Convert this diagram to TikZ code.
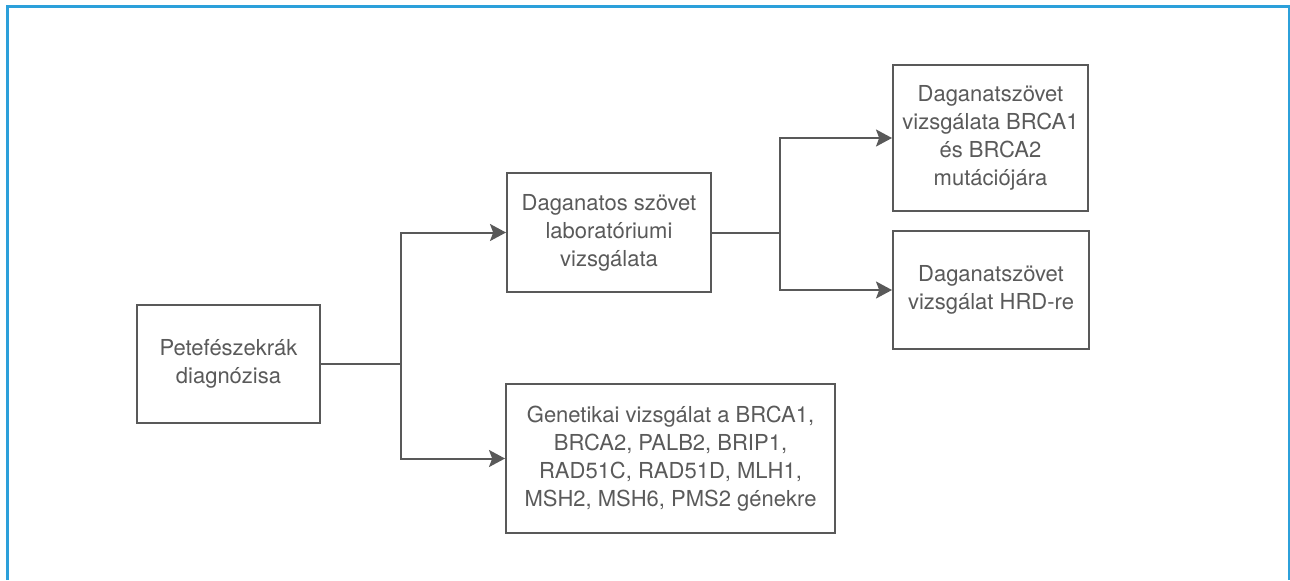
\documentclass[tikz,border=0pt]{standalone}
\usepackage{fontspec}
\setmainfont{TeX Gyre Heros}
\usetikzlibrary{arrows.meta}
\definecolor{frameblue}{RGB}{44, 160, 218}
\definecolor{boxgray}{RGB}{89, 89, 89}
\definecolor{textgray}{RGB}{90, 90, 90}

\tikzset{
    stepbox/.style={draw=boxgray, line width=1pt, fill=white, align=center,
        text=textgray, font=\fontsize{11pt}{14pt}\selectfont, inner sep=2pt},
    link/.style={draw=boxgray, line width=1pt,
        -{Stealth[length=8pt, width=8.5pt, inset=1.6pt]}}
}

\begin{document}
\begin{tikzpicture}[x=0.5pt, y=-0.5pt]
            \useasboundingbox (0,0) rectangle (1290,580);
            \draw[frameblue, line width=1.3pt] (7.3,580) -- (7.3,6.5) -- (1289.5,6.5) -- (1289.5,580);
            \node[stepbox, minimum width=91.5pt, minimum height=59pt]   (diag) at ( 228.5, 364.0) {Petefészekrák\\diagnózisa};
            \node[stepbox, minimum width=102pt,  minimum height=59.5pt] (lab)  at ( 609.0, 232.5) {Daganatos szövet\\laboratóriumi\\vizsgálata};
            \node[stepbox, minimum width=164.5pt, minimum height=74.5pt] (gen) at ( 670.5, 458.5)
                 {Genetikai vizsgálat a BRCA1,\\BRCA2, PALB2, BRIP1,\\RAD51C, RAD51D, MLH1,\\MSH2, MSH6, PMS2 génekre};
            \node[stepbox, minimum width=97.5pt, minimum height=73pt]   (brca) at ( 990.5, 138.0)
                 {Daganatszövet\\vizsgálata BRCA1\\és BRCA2\\mutációjára};
            \node[stepbox, minimum width=98pt,   minimum height=59pt]   (hrd)  at ( 991.0, 290.0) {Daganatszövet\\vizsgálat HRD-re};
            \draw[link] (diag.east) -- ++(80,0) |- (lab.west);
            \draw[link] (diag.east) -- ++(80,0) |- (gen.west);
            \draw[link] (lab.east)  -- ++(68,0) |- (brca.west);
            \draw[link] (lab.east)  -- ++(68,0) |- (hrd.west);
        \end{tikzpicture}
\end{document}
